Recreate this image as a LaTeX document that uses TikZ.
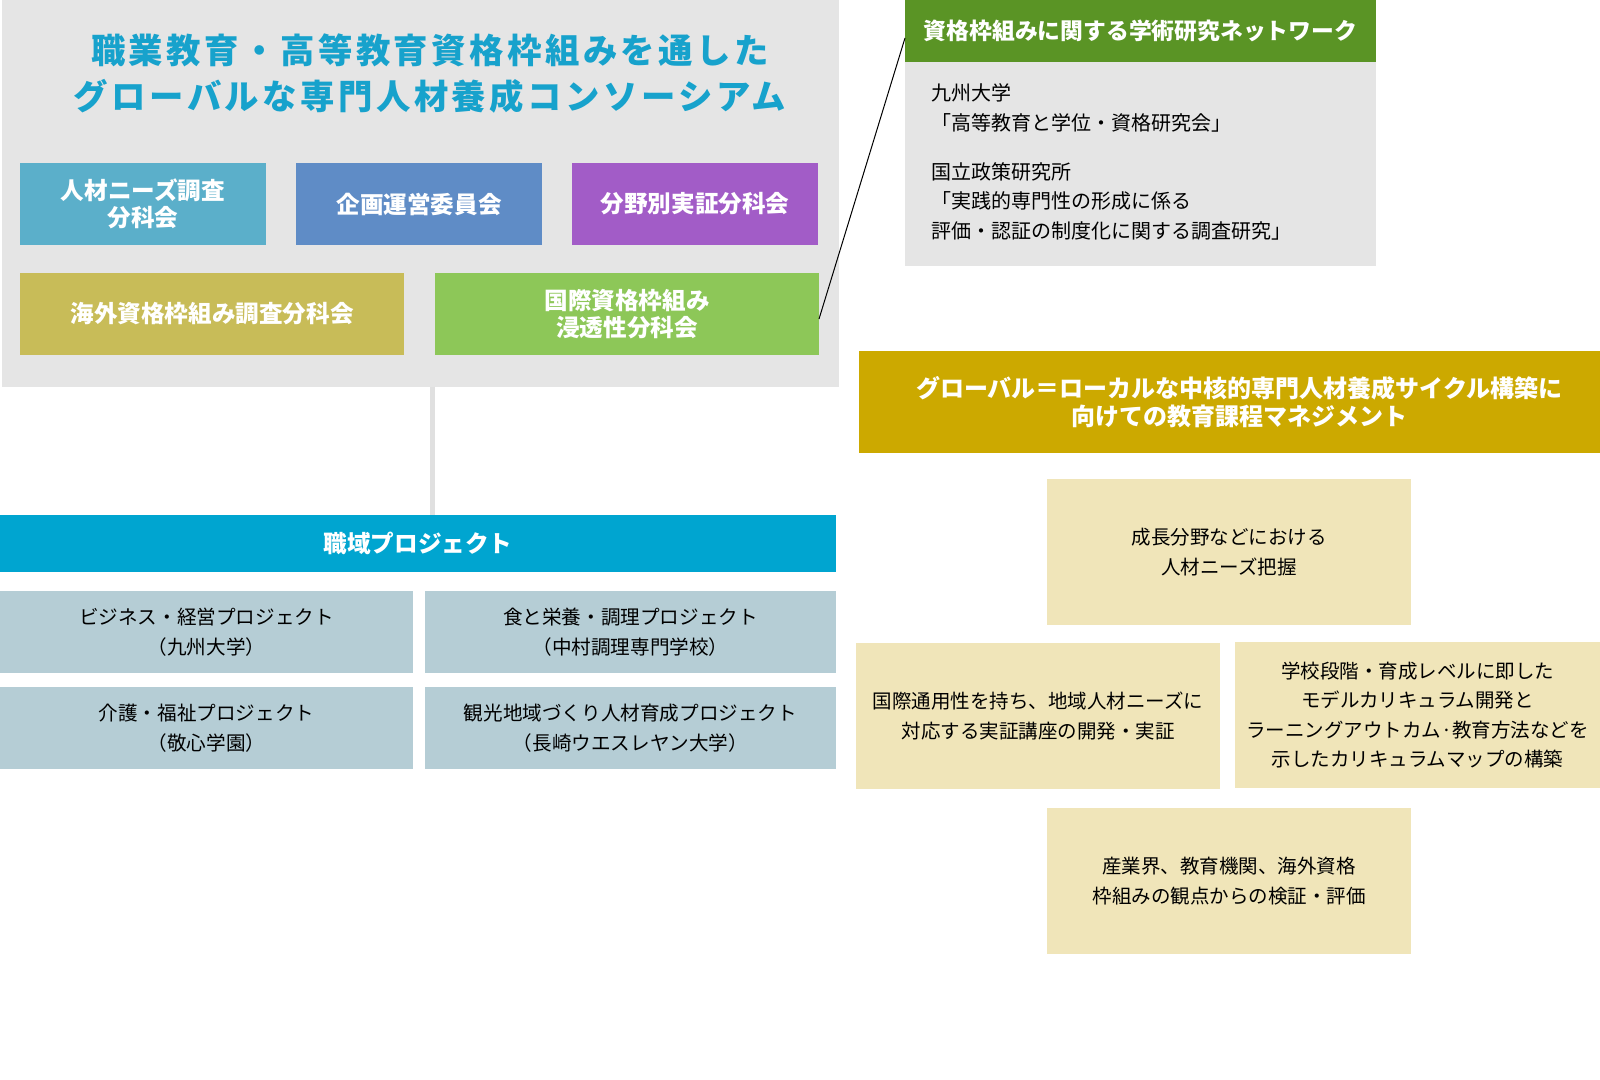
\documentclass[tikz,border=0pt]{standalone}
\usepackage{fontspec}
\usepackage{xcolor}
\usetikzlibrary{positioning}
\setmainfont{Noto Sans CJK JP}
\newfontfamily\titlefont[LetterSpace=10]{Noto Sans CJK JP}

\definecolor{bggray}{HTML}{E5E5E5}
\definecolor{titlecyan}{HTML}{17A2CC}
\definecolor{needsblue}{HTML}{5BAFCA}
\definecolor{planblue}{HTML}{5F8CC6}
\definecolor{fieldpurple}{HTML}{A25CC7}
\definecolor{overseasolive}{HTML}{C8BC58}
\definecolor{intlgreen}{HTML}{8DC758}
\definecolor{linegray}{HTML}{E0E0E0}
\definecolor{barcyan}{HTML}{00A5D0}
\definecolor{projgray}{HTML}{B5CDD5}
\definecolor{netgreen}{HTML}{5A9425}
\definecolor{gold}{HTML}{CCA900}
\definecolor{beige}{HTML}{F0E5B9}

\begin{document}
\begin{tikzpicture}[
  x=0.5pt, y=-0.5pt,
  every node/.style={inner sep=0pt, outer sep=0pt},
  head/.style={text=white, align=center, font=\bfseries\fontsize{11.8pt}{13.8pt}\selectfont},
  sub/.style={head, minimum width=123pt, minimum height=41pt},
  wide/.style={head, minimum width=192pt, minimum height=41pt},
  proj/.style={fill=projgray, align=center, minimum height=41pt, font=\fontsize{9.8pt}{14.8pt}\selectfont},
  cycle/.style={fill=beige, align=center, minimum width=182pt, minimum height=73pt, font=\fontsize{9.75pt}{14.8pt}\selectfont},
]
\useasboundingbox (0,0) rectangle (1600,1080);

% consortium
\node[fill=bggray, minimum width=418.5pt, minimum height=193.5pt] (bg) at (420.5,193.5) {};
\node[text=titlecyan, align=center, font=\titlefont\bfseries\fontsize{17.2pt}{23pt}\selectfont] (title) at (430,74)
  {職業教育・高等教育資格枠組みを通した\\グローバルな専門人材養成コンソーシアム};
\node[sub, fill=needsblue] (needs) at (143,204) {人材ニーズ調査\\分科会};
\node[sub, fill=planblue, right=15pt of needs] (plan) {企画運営委員会};
\node[sub, fill=fieldpurple, right=15pt of plan] (field) {分野別実証分科会};
\node[wide, fill=overseasolive] (overseas) at (212,314) {海外資格枠組み調査分科会};
\node[wide, fill=intlgreen, right=15.5pt of overseas] (intl) {国際資格枠組み\\浸透性分科会};

% projects
\node[fill=barcyan, head, minimum width=418pt, minimum height=28.5pt] (shokuiki) at (418,543.5) {職域プロジェクト};
\coordinate (vtop) at (432,387);
\draw[linegray, line width=2.5pt] (vtop) -- (vtop |- shokuiki.north);
\node[proj, minimum width=206.5pt] (business) at (206.5,632) {ビジネス・経営プロジェクト\\（九州大学）};
\node[proj, minimum width=205.5pt, right=6pt of business] (food) {食と栄養・調理プロジェクト\\（中村調理専門学校）};
\node[proj, minimum width=206.5pt, below=7pt of business] (care) {介護・福祉プロジェクト\\（敬心学園）};
\node[proj, minimum width=205.5pt, right=6pt of care] (tourism) {観光地域づくり人材育成プロジェクト\\（長崎ウエスレヤン大学）};

% research network
\node[fill=netgreen, head, font=\bfseries\fontsize{11.4pt}{13.8pt}\selectfont, minimum width=235.5pt, minimum height=31pt] (nethead) at (1140.5,31) {資格枠組みに関する学術研究ネットワーク};
\node[fill=bggray, minimum width=235.5pt, minimum height=102pt, below=0pt of nethead] (netbody) {};
\node[anchor=west, align=left, font=\fontsize{10pt}{14.8pt}\selectfont] (nettext) at (931,162)
  {九州大学\\「高等教育と学位・資格研究会」\\[9.7pt]国立政策研究所\\「実践的専門性の形成に係る\\評価・認証の制度化に関する調査研究」};
\draw[black, line width=0.5pt] ([yshift=-2.5pt]intl.east) -- ([yshift=-3.5pt]nethead.west);

% management cycle
\node[fill=gold, head, font=\bfseries\fontsize{12pt}{14.3pt}\selectfont, minimum width=370.5pt, minimum height=51pt] (mgmt) at (1229.5,402)
  {\hspace*{10pt}グローバル＝ローカルな中核的専門人材養成サイクル構築に\\\hspace*{10pt}向けての教育課程マネジメント};
\node[cycle] (grasp) at (1229,552) {成長分野などにおける\\人材ニーズ把握};
\node[cycle] (course) at (1038,716) {国際通用性を持ち、地域人材ニーズに\\対応する実証講座の開発・実証};
\node[cycle, minimum width=182.5pt] (curric) at (1417.5,715) {学校段階・育成レベルに即した\\モデルカリキュラム開発と\\ラーニングアウトカム·教育方法などを\\示したカリキュラムマップの構築};
\node[cycle] (verify) at (1229,881) {産業界、教育機関、海外資格\\枠組みの観点からの検証・評価};
\end{tikzpicture}
\end{document}
